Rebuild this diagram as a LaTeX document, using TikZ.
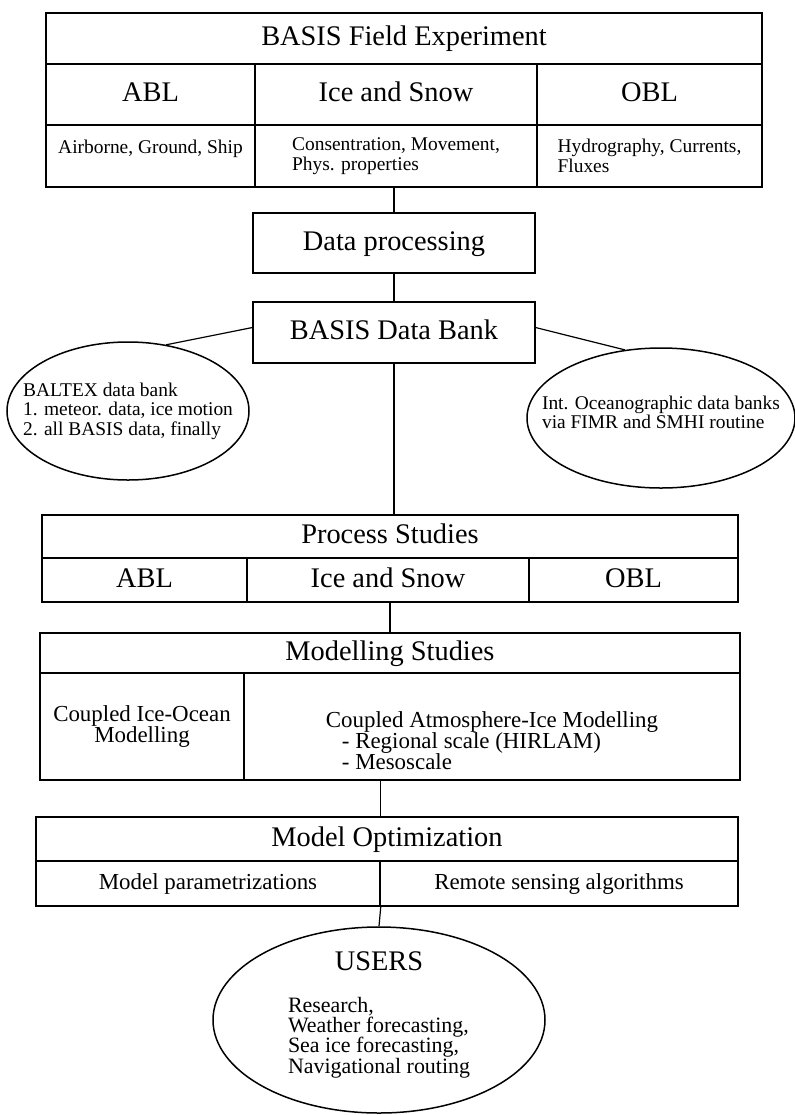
\documentclass[tikz,border=0pt]{standalone}
\usepackage{fontspec}
\setmainfont{Liberation Serif}
\usetikzlibrary{shapes.geometric}
\tikzset{
  cell/.style={shape=rectangle,draw,line width=1.5bp,inner sep=0pt,align=center},
  blob/.style={shape=ellipse,draw,line width=1.5bp,inner sep=0pt},
  big/.style={font=\fontsize{28.5}{30}\selectfont,text height=20bp,text depth=6bp},
  mid/.style={font=\fontsize{23}{21}\selectfont},
  midone/.style={mid,text height=16bp,text depth=5bp},
  usr/.style={font=\fontsize{22}{20.5}\selectfont},
  small/.style={font=\fontsize{19.5}{19.5}\selectfont},
}
\begin{document}
\begin{tikzpicture}[x=1bp,y=-1bp]
\useasboundingbox (0,0) rectangle (795,1115);
\node(fe)       at (404,38.5)[cell,big,minimum width=716bp,minimum height=51bp] {BASIS Field Experiment};
\node(fe-abl)   at (150.5,94.5)[cell,big,minimum width=209bp,minimum height=61bp] {ABL};
\node(fe-ice)   at (396,94.5)[cell,big,minimum width=282bp,minimum height=61bp]   {Ice and Snow};
\node(fe-obl)   at (649.5,94.5)[cell,big,minimum width=225bp,minimum height=61bp] {OBL};
\node(fe-abl-d) at (150.5,156)[cell,small,minimum width=209bp,minimum height=62bp] {Airborne, Ground, Ship\\ \mbox{}};
\node(fe-ice-d) at (396,156)[cell,small,align=left,minimum width=282bp,minimum height=62bp]   {Consentration, Movement,\\Phys. properties};
\node(fe-obl-d) at (649.5,156)[cell,small,align=left,minimum width=225bp,minimum height=62bp] {Hydrography, Currents,\\Fluxes};

\node(dp) at (394,243)[cell,big,minimum width=282bp,minimum height=60bp]   {Data processing};
\node(db) at (394,332.5)[cell,big,minimum width=282bp,minimum height=61bp] {BASIS Data Bank};
\node(baltex) at (128,411)[blob,minimum width=242bp,minimum height=138bp,
  label={[small,align=left]center:{BALTEX data bank\\1. meteor. data, ice motion\\2. all BASIS data, finally}}] {};
\node(oce) at (661,418)[blob,minimum width=268bp,minimum height=140bp,
  label={[small,align=left,yshift=5.5bp]center:{Int. Oceanographic data banks\\via FIMR and SMHI routine}}] {};

\node(ps)     at (390,536.5)[cell,big,minimum width=696bp,minimum height=43bp] {Process Studies};
\node(ps-abl) at (144.5,580)[cell,big,minimum width=205bp,minimum height=44bp] {ABL};
\node(ps-ice) at (388,580)[cell,big,minimum width=282bp,minimum height=44bp]   {Ice and Snow};
\node(ps-obl) at (633.5,580)[cell,big,minimum width=209bp,minimum height=44bp] {OBL};

\node(ms)     at (390,653)[cell,big,minimum width=700bp,minimum height=40bp] {Modelling Studies};
\node(ms-ice) at (142,726.5)[cell,mid,minimum width=204bp,minimum height=107bp] {Coupled Ice-Ocean\\Modelling};
\node(ms-atm) at (492,726.5)[cell,minimum width=496bp,minimum height=107bp,
  label={[mid,align=left,yshift=-14.5bp]center:{Coupled Atmosphere-Ice Modelling\\\hspace*{0.7em}- Regional scale (HIRLAM)\\\hspace*{0.7em}- Mesoscale}}] {};

\node(mo)     at (387,839)[cell,big,minimum width=702bp,minimum height=44bp] {Model Optimization};
\node(mo-par) at (208,883.5)[cell,midone,minimum width=344bp,minimum height=45bp] {Model parametrizations};
\node(mo-rem) at (559,883.5)[cell,midone,minimum width=358bp,minimum height=45bp] {Remote sensing algorithms};

\node(users) at (379,1020)[blob,minimum width=332bp,minimum height=186bp,
  label={[big,yshift=57bp]center:USERS},
  label={[usr,align=left,yshift=-17.5bp]center:{Research,\\Weather forecasting,\\Sea ice forecasting,\\Navigational routing}}] {};

\path [-,line width=1.2bp]
  (dp.north |- fe-ice-d.south)       edge (dp.north)
  (dp)                               edge (db)
  (db.178)                           edge (baltex.60)
  (db.2)                             edge (oce.118)
  (db.south)                         edge (db.south |- ps.north)
  (ms.north |- ps-ice.south)         edge (ms.north)
  (ms-atm.south -| mo-par.east)      edge (mo.north -| mo-par.east)
  (mo-par.south east)                edge (users.north);
\end{tikzpicture}
\end{document}
